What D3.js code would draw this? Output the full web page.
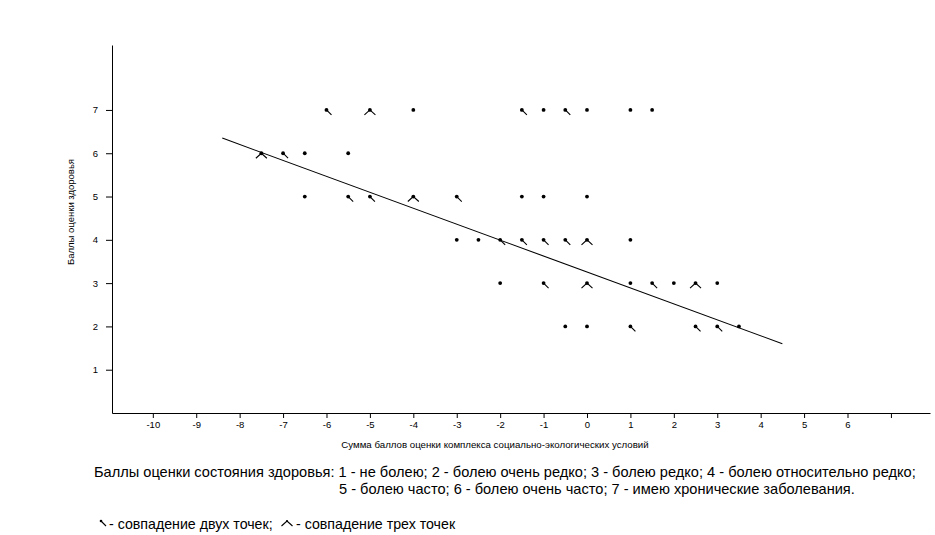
<!DOCTYPE html>
<html><head><meta charset="utf-8">
<script src="https://cdn.jsdelivr.net/npm/d3@7"></script>
<style>body{margin:0;background:#fff}svg{display:block;font-family:"Liberation Sans",Arial,sans-serif}</style>
</head><body><svg id="c" width="935" height="535"></svg>
<script>
// x value, y value, count (1 = single point, 2 = two coincide, 3 = three coincide)
const xVals = [-6,-5,-4,-1.5,-1,-0.5,0,1,1.5,
  -7.5,-7,-6.5,-5.5,
  -6.5,-5.5,-5,-4,-3,-1.5,-1,0,
  -3,-2.5,-2,-1.5,-1,-0.5,0,1,
  -2,-1,0,1,1.5,2,2.5,3,
  -0.5,0,1,2.5,3,3.5];
const yVals = [7,7,7,7,7,7,7,7,7,
  6,6,6,6,
  5,5,5,5,5,5,5,5,
  4,4,4,4,4,4,4,4,
  3,3,3,3,3,3,3,3,
  2,2,2,2,2,2];
const counts = [2,3,1,2,1,2,1,1,1,
  3,2,1,1,
  1,2,2,3,2,1,1,1,
  1,1,2,2,2,2,3,1,
  1,2,3,1,2,1,3,1,
  1,1,2,2,2,1];
const regX = [-8.4, 4.5];
const regY = [6.35, 1.6];
const xTicks = [-10,-9,-8,-7,-6,-5,-4,-3,-2,-1,0,1,2,3,4,5,6,7];
const xTickLabels = ["-10","-9","-8","-7","-6","-5","-4","-3","-2","-1","0","1","2","3","4","5","6",""];
const yTicks = [1,2,3,4,5,6,7];
const xTitle = "Сумма баллов оценки комплекса социально-экологических условий";
const yTitle = "Баллы оценки здоровья";
const note1 = "Баллы оценки состояния здоровья: 1 - не болею; 2 - болею очень редко; 3 - болею редко; 4 - болею относительно редко;";
const note2 = "5 - болею часто; 6 - болею очень часто; 7 - имею хронические заболевания.";
const legend2 = " - совпадение двух точек;";
const legend3 = " - совпадение трех точек";

const svg = d3.select("#c");
const x = d3.scaleLinear().domain([-10.94, 7.9]).range([112, 930]);
const y = d3.scaleLinear().domain([0, 8.5]).range([413, 45]);

const gx = svg.append("g").attr("transform","translate(0,413)")
  .call(d3.axisBottom(x).tickValues(xTicks).tickFormat((d,i)=>xTickLabels[i]).tickSize(5).tickPadding(3).tickSizeOuter(0));
gx.select(".domain").attr("stroke","#000");
gx.selectAll("text").attr("font-size","9.5px").attr("font-family","'Liberation Sans',Arial,sans-serif").attr("fill","#000");
const gy = svg.append("g").attr("transform","translate(112,0)")
  .call(d3.axisLeft(y).tickValues(yTicks).tickFormat(d3.format("d")).tickSize(6).tickPadding(8).tickSizeOuter(0));
gy.select(".domain").attr("stroke","#000");
gy.selectAll("text").attr("font-size","9.5px").attr("font-family","'Liberation Sans',Arial,sans-serif").attr("fill","#000");

svg.append("text").attr("x",495).attr("y",448).attr("text-anchor","middle").attr("font-size","9.7px").text(xTitle);
svg.append("text").attr("transform","translate(74,212) rotate(-90)").attr("text-anchor","middle").attr("font-size","9.5px").text(yTitle);

// regression line
svg.append("line").attr("x1",x(regX[0])).attr("y1",y(regY[0])).attr("x2",x(regX[1])).attr("y2",y(regY[1]))
  .attr("stroke","#000").attr("stroke-width",1.1);

function marker(g, cx, cy, n, r){
  g.append("circle").attr("cx",cx).attr("cy",cy).attr("r",r||1.9).attr("fill","#000");
  if(n===2){
    g.append("line").attr("x1",cx).attr("y1",cy).attr("x2",cx+5).attr("y2",cy+5).attr("stroke","#000").attr("stroke-width",1.1);
  } else if(n===3){
    g.append("path").attr("d",`M${cx-5.5},${cy+5}L${cx},${cy}L${cx+5.5},${cy+5}`).attr("fill","none").attr("stroke","#000").attr("stroke-width",1.1);
  }
}
const pg = svg.append("g");
xVals.forEach((v,i)=>marker(pg, x(v), y(yVals[i]), counts[i]));

svg.append("text").attr("x",94).attr("y",477).attr("font-size","14.6px").text(note1);
svg.append("text").attr("x",339).attr("y",494).attr("font-size","14.6px").text(note2);
const lg = svg.append("g");
marker(lg, 101, 521, 2, 1.3);
svg.append("text").attr("x",109).attr("y",529).attr("font-size","14.2px").text(legend2);
marker(lg, 287, 521, 3, 1.0);
svg.append("text").attr("x",296).attr("y",529).attr("font-size","14.2px").text(legend3);
</script></body></html>
